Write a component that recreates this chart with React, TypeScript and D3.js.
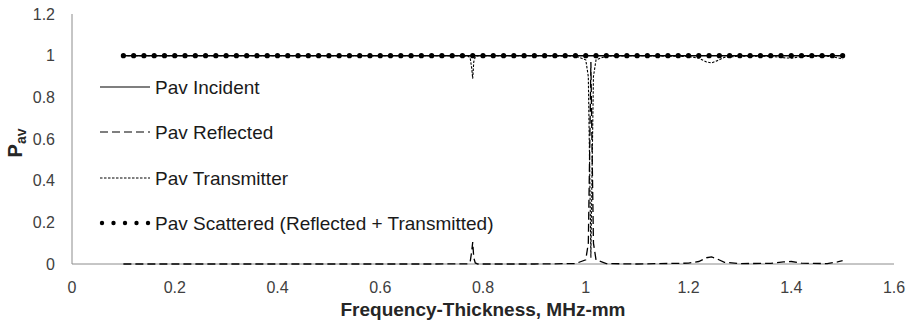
import React from "react";
import * as d3 from "d3";

// Frequency-thickness grid of the scattered-power series (MHz-mm)
const gridFreq = [
  0.1, 0.12, 0.14, 0.16, 0.18, 0.2, 0.22, 0.24, 0.26, 0.28,
  0.3, 0.32, 0.34, 0.36, 0.38, 0.4, 0.42, 0.44, 0.46, 0.48,
  0.5, 0.52, 0.54, 0.56, 0.58, 0.6, 0.62, 0.64, 0.66, 0.68,
  0.7, 0.72, 0.74, 0.76, 0.78, 0.8, 0.82, 0.84, 0.86, 0.88,
  0.9, 0.92, 0.94, 0.96, 0.98, 1.0, 1.02, 1.04, 1.06, 1.08,
  1.1, 1.12, 1.14, 1.16, 1.18, 1.2, 1.22, 1.24, 1.26, 1.28,
  1.3, 1.32, 1.34, 1.36, 1.38, 1.4, 1.42, 1.44, 1.46, 1.48, 1.5,
];
const incidentPav = [
  1, 1, 1, 1, 1, 1, 1, 1, 1, 1,
  1, 1, 1, 1, 1, 1, 1, 1, 1, 1,
  1, 1, 1, 1, 1, 1, 1, 1, 1, 1,
  1, 1, 1, 1, 1, 1, 1, 1, 1, 1,
  1, 1, 1, 1, 1, 1, 1, 1, 1, 1,
  1, 1, 1, 1, 1, 1, 1, 1, 1, 1,
  1, 1, 1, 1, 1, 1, 1, 1, 1, 1, 1,
];
const scatteredPav = [
  1, 1, 1, 1, 1, 1, 1, 1, 1, 1,
  1, 1, 1, 1, 1, 1, 1, 1, 1, 1,
  1, 1, 1, 1, 1, 1, 1, 1, 1, 1,
  1, 1, 1, 1, 1, 1, 1, 1, 1, 1,
  1, 1, 1, 1, 1, 1, 1, 1, 1, 1,
  1, 1, 1, 1, 1, 1, 1, 1, 1, 1,
  1, 1, 1, 1, 1, 1, 1, 1, 1, 1, 1,
];

// Finer sampling around the resonances for reflected / transmitted power
const resFreq = [
  0.1, 0.2, 0.3, 0.4, 0.5, 0.6, 0.7, 0.77, 0.775, 0.778,
  0.78, 0.782, 0.785, 0.79, 0.9, 0.98, 1.0, 1.005, 1.008, 1.01,
  1.012, 1.015, 1.02, 1.04, 1.1, 1.2, 1.22, 1.235, 1.245, 1.255,
  1.27, 1.3, 1.36, 1.385, 1.4, 1.42, 1.47, 1.49, 1.5,
];
const reflectedPav = [
  0, 0, 0, 0, 0, 0, 0, 0.001, 0.01, 0.06,
  0.105, 0.03, 0.005, 0, 0, 0.002, 0.02, 0.1, 0.6, 0.97,
  0.6, 0.1, 0.02, 0.002, 0, 0.004, 0.012, 0.03, 0.034, 0.025,
  0.008, 0.002, 0.003, 0.01, 0.012, 0.004, 0.002, 0.01, 0.016,
];
const transmittedPav = [
  1, 1, 1, 1, 1, 1, 1, 0.999, 0.99, 0.94,
  0.89, 0.97, 0.995, 1, 1, 0.998, 0.98, 0.9, 0.4, 0.03,
  0.4, 0.9, 0.98, 0.998, 1, 0.996, 0.988, 0.97, 0.965, 0.975,
  0.992, 0.998, 0.997, 0.99, 0.988, 0.996, 0.998, 0.99, 0.984,
];

const xTicks = [0, 0.2, 0.4, 0.6, 0.8, 1, 1.2, 1.4, 1.6];
const yTicks = [0, 0.2, 0.4, 0.6, 0.8, 1, 1.2];

const legendLabels = [
  "Pav Incident",
  "Pav Reflected",
  "Pav Transmitter",
  "Pav Scattered (Reflected + Transmitted)",
];

const W = 906;
const H = 324;
const margin = { left: 72, right: 12, top: 14, bottom: 60 };
const FONT = "'Liberation Sans', Arial, sans-serif";

export default function App() {
  const x = d3.scaleLinear().domain([0, 1.6]).range([margin.left, W - margin.right]);
  const y = d3.scaleLinear().domain([0, 1.2]).range([H - margin.bottom, margin.top]);

  const line = d3
    .line<[number, number]>()
    .x((d) => x(d[0]))
    .y((d) => y(d[1]));

  const incident = line(gridFreq.map((f, i) => [f, incidentPav[i]]))!;
  const scattered = gridFreq.map((f, i) => [f, scatteredPav[i]] as [number, number]);
  const reflected = line(resFreq.map((f, i) => [f, reflectedPav[i]]))!;
  const transmitted = line(resFreq.map((f, i) => [f, transmittedPav[i]]))!;

  const axisColor = "#8c8c8c";
  const tickColor = "#404040";
  const x0 = x(0);
  const yBase = y(0);

  const legendX = 100;
  const legendY = [87, 132, 178, 223];
  const legendLen = 50;

  return (
    <svg
      width={W}
      height={H}
      style={{ position: "absolute", left: 0, top: 0, background: "#fff" }}
      fontFamily={FONT}
    >
      {/* axes */}
      <line x1={x0} x2={x0} y1={y(1.2)} y2={yBase} stroke={axisColor} strokeWidth={1} />
      <line x1={x0} x2={x(1.6)} y1={yBase} y2={yBase} stroke={axisColor} strokeWidth={1} />

      {yTicks.map((t) => (
        <text
          key={"y" + t}
          x={x0 - 17}
          y={y(t)}
          textAnchor="end"
          dominantBaseline="central"
          fontSize={16}
          fill={tickColor}
        >
          {d3.format("~g")(t)}
        </text>
      ))}
      {xTicks.map((t) => (
        <text
          key={"x" + t}
          x={x(t)}
          y={yBase + 23}
          textAnchor="middle"
          dominantBaseline="central"
          fontSize={16}
          fill={tickColor}
        >
          {d3.format("~g")(t)}
        </text>
      ))}

      {/* axis titles */}
      <text
        x={(x0 + x(1.6)) / 2}
        y={309}
        textAnchor="middle"
        dominantBaseline="central"
        fontSize={19}
        fontWeight="bold"
        fill="#262626"
      >
        Frequency-Thickness, MHz-mm
      </text>
      <text
        transform={`translate(22, 143) rotate(-90)`}
        textAnchor="middle"
        fontSize={20}
        fontWeight="bold"
        fill="#262626"
      >
        P<tspan fontSize={14} dy={4}>av</tspan>
      </text>

      {/* series */}
      <path d={incident} fill="none" stroke="#000" strokeWidth={1.5} />
      <path d={reflected} fill="none" stroke="#000" strokeWidth={1.3} strokeDasharray="8 4" />
      <path d={transmitted} fill="none" stroke="#000" strokeWidth={1.1} strokeDasharray="2.5 1.5" />
      {scattered.map((d, i) => (
        <circle key={"s" + i} cx={x(d[0])} cy={y(d[1])} r={2.6} fill="#000" />
      ))}

      {/* legend */}
      <line x1={legendX} x2={legendX + legendLen} y1={legendY[0]} y2={legendY[0]} stroke="#000" strokeWidth={1.2} />
      <line
        x1={legendX}
        x2={legendX + legendLen}
        y1={legendY[1]}
        y2={legendY[1]}
        stroke="#000"
        strokeWidth={1.2}
        strokeDasharray="8 4"
      />
      <line
        x1={legendX}
        x2={legendX + legendLen}
        y1={legendY[2]}
        y2={legendY[2]}
        stroke="#000"
        strokeWidth={1}
        strokeDasharray="2.5 1.5"
      />
      {[0, 1, 2, 3, 4].map((k) => (
        <circle key={"ld" + k} cx={legendX + 2 + k * 11.5} cy={legendY[3]} r={2.2} fill="#000" />
      ))}
      {legendLabels.map((lab, i) => (
        <text
          key={lab}
          x={legendX + legendLen + 5}
          y={legendY[i]}
          dominantBaseline="central"
          fontSize={19}
          fill="#1a1a1a"
        >
          {lab}
        </text>
      ))}
    </svg>
  );
}
